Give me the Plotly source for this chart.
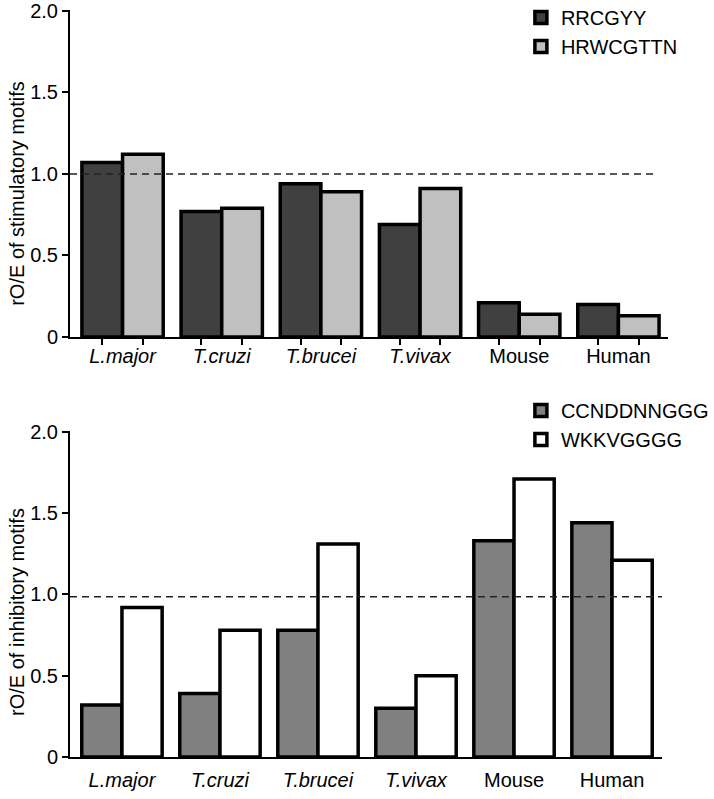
import plotly.graph_objects as go

# categories and values
species = ["L.major", "T.cruzi", "T.brucei", "T.vivax", "Mouse", "Human"]
italic = [True, True, True, True, False, False]

stim_names = ["RRCGYY", "HRWCGTTN"]
rrcgyy = [1.07, 0.77, 0.94, 0.69, 0.21, 0.20]
hrwcgttn = [1.12, 0.79, 0.89, 0.91, 0.14, 0.13]

inhib_names = ["CCNDDNNGGG", "WKKVGGGG"]
ccnddnnggg = [0.32, 0.39, 0.78, 0.30, 1.33, 1.44]
wkkvgggg = [0.92, 0.78, 1.31, 0.50, 1.71, 1.21]

ytick_vals = [0, 0.5, 1.0, 1.5, 2.0]
ytick_text = ["0", "0.5", "1.0", "1.5", "2.0"]
ref_top = 1.0
ref_bottom = 0.985

FONT = "Arial, Liberation Sans, sans-serif"
bargap = 0.18

xpos = list(range(len(species)))
ticktext = [f"<i>{s}</i>" if it else s for s, it in zip(species, italic)]
half = (1 - bargap) / 4  # centre offset of each bar in a pair
bar_centres = [p + d for p in xpos for d in (-half, half)]

fig = go.Figure()

def add_bar(y, name, color, xa, ya, leg):
    fig.add_trace(go.Bar(
        x=xpos, y=y, name=name, xaxis=xa, yaxis=ya, legend=leg,
        marker=dict(color=color, line=dict(color="black", width=3.5)),
    ))

add_bar(rrcgyy, stim_names[0], "#404040", "x", "y", "legend")
add_bar(hrwcgttn, stim_names[1], "#c0c0c0", "x", "y", "legend")
add_bar(ccnddnnggg, inhib_names[0], "#808080", "x2", "y2", "legend2")
add_bar(wkkvgggg, inhib_names[1], "#ffffff", "x2", "y2", "legend2")

# dashed reference lines (expected ratio)
fig.add_shape(type="line", xref="x domain", yref="y", x0=0, x1=0.98, y0=ref_top, y1=ref_top,
              line=dict(color="#222", width=1.5, dash="7px,5px"))
fig.add_shape(type="line", xref="x2 domain", yref="y2", x0=0, x1=1.0, y0=ref_bottom, y1=ref_bottom,
              line=dict(color="#222", width=1.5, dash="7px,5px"))

xcommon = dict(
    tickmode="array", tickvals=xpos, ticktext=ticktext, ticks="", automargin=False,
    showline=True, linecolor="black", linewidth=2, showgrid=False, zeroline=False,
    tickfont=dict(size=20, color="black", family=FONT),
)
ycommon = dict(
    range=[0, 2.005], tickmode="array", tickvals=ytick_vals, ticktext=ytick_text,
    ticks="outside", ticklen=6, tickwidth=1.5, tickcolor="black", automargin=False,
    ticklabeloverflow="allow",
    showline=True, linecolor="black", linewidth=2, showgrid=False, zeroline=False,
    tickfont=dict(size=20, color="black", family=FONT),
)

fig.update_layout(
    width=714, height=799,
    margin=dict(l=70, r=46, t=10, b=42, autoexpand=False),
    paper_bgcolor="white", plot_bgcolor="white",
    barmode="group", bargap=bargap, bargroupgap=0,
    font=dict(family=FONT, size=20, color="black"),
    xaxis=dict(xcommon, domain=[0, 1], range=[-0.53, 5.5], anchor="y",
               ticklabelstandoff=0,
               minor=dict(tickmode="array", tickvals=bar_centres, ticks="outside",
                          ticklen=6, tickwidth=1.5, tickcolor="black")),
    yaxis=dict(ycommon, domain=[0.5622, 1.0], anchor="x"),
    xaxis2=dict(xcommon, domain=[0, 0.99], range=[-0.53, 5.51], anchor="y2",
                ticklabelstandoff=4),
    yaxis2=dict(ycommon, domain=[0, 0.4364], anchor="x2"),
    legend=dict(x=0.754, y=1.016, xanchor="left", yanchor="top",
                bgcolor="rgba(0,0,0,0)", font=dict(size=20, family=FONT)),
    legend2=dict(x=0.754, y=0.49, xanchor="left", yanchor="top",
                 bgcolor="rgba(0,0,0,0)", font=dict(size=20, family=FONT)),
    showlegend=True,
)

fig.add_annotation(text="rO/E of stimulatory motifs", textangle=-90,
                   xref="paper", x=0, xshift=-53, xanchor="center",
                   yref="y domain", y=0.438, yanchor="middle",
                   showarrow=False, font=dict(size=20, family=FONT))
fig.add_annotation(text="rO/E of inhibitory motifs", textangle=-90,
                   xref="paper", x=0, xshift=-53, xanchor="center",
                   yref="y2 domain", y=0.445, yanchor="middle",
                   showarrow=False, font=dict(size=20, family=FONT))

# drop the browser's default page margin so the figure sits at the window corner
fig.write_html("out.html", config={"displayModeBar": False},
               post_script="document.body.style.margin='0';")
